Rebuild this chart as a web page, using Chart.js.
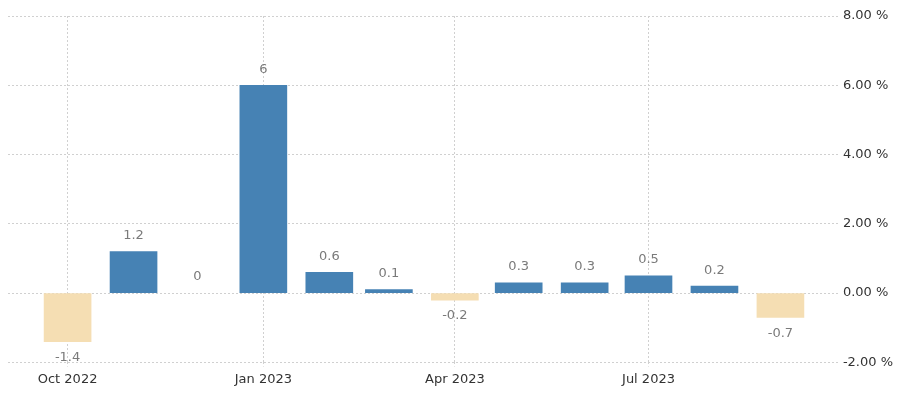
<!DOCTYPE html>
<html>
<head>
<meta charset="utf-8">
<script src="https://cdn.jsdelivr.net/npm/chart.js@4"></script>
<style>
  html, body { margin: 0; padding: 0; background: #fff; }
  #wrap { width: 900px; height: 398px; }
</style>
</head>
<body>
<div id="wrap"><canvas id="myChart"></canvas></div>
<script>
// meses (primer dia de cada mes) y valores en %
const months = ['2022-10', '2022-11', '2022-12', '2023-01', '2023-02', '2023-03',
                '2023-04', '2023-05', '2023-06', '2023-07', '2023-08', '2023-09'];
const values = [-1.4, 1.2, 0, 6, 0.6, 0.1, -0.2, 0.3, 0.3, 0.5, 0.2, -0.7];
const tickMonths = ['2022-10', '2023-01', '2023-04', '2023-07'];
const tickLabels = ['Oct 2022', 'Jan 2023', 'Apr 2023', 'Jul 2023'];
const yTicks = [-2, 0, 2, 4, 6, 8];

// dias desde el primer mes -> eje lineal que imita un eje de tiempo
const dayOf = (m) => {
    const [y, mo] = m.split('-').map(Number);
    return (Date.UTC(y, mo - 1, 1) - Date.UTC(2022, 9, 1)) / 86400000;
};

const points = months.map((m, i) => ({ x: dayOf(m), y: values[i] }));
const tickDays = tickMonths.map(dayOf);

// etiquetas de valor sobre / bajo cada barra
const valueLabels = {
    id: 'valueLabels',
    afterDatasetsDraw(chart) {
        const ctx = chart.ctx;
        const meta = chart.getDatasetMeta(0);
        ctx.save();
        ctx.font = '13px "DejaVu Sans", sans-serif';
        ctx.fillStyle = '#7a7a7a';
        ctx.textAlign = 'center';
        ctx.textBaseline = 'middle';
        meta.data.forEach((bar, i) => {
            const v = values[i];
            const y = v < 0 ? bar.y + 16 : bar.y - 16;
            ctx.fillText(String(v), bar.x, y);
        });
        ctx.restore();
    }
};

new Chart(document.getElementById('myChart'), {
    type: 'bar',
    data: {
        datasets: [{
            data: points,
            // el 0 no se dibuja como barra
            backgroundColor: values.map(v => v < 0 ? '#f5deb3' : (v === 0 ? 'rgba(0,0,0,0)' : '#4682b4')),
            barThickness: 47,
            borderWidth: 0
        }]
    },
    options: {
        responsive: true,
        maintainAspectRatio: false,
        animation: false,
        layout: { padding: { left: 8, top: 16, right: 2, bottom: 6 } },
        plugins: { legend: { display: false }, tooltip: { enabled: false } },
        scales: {
            x: {
                type: 'linear',
                offset: false,
                min: -28,
                max: 362,
                afterBuildTicks: (axis) => { axis.ticks = tickDays.map(v => ({ value: v })); },
                ticks: {
                    autoSkip: false,
                    maxRotation: 0,
                    color: '#333',
                    font: { size: 13, family: '"DejaVu Sans", sans-serif' },
                    padding: 5,
                    callback: (v) => tickLabels[tickDays.indexOf(v)]
                },
                grid: {
                    offset: false,
                    color: '#d0d0d0',
                    drawTicks: true,
                    tickLength: 4,
                    tickBorderDash: [2, 2]
                },
                border: { display: false, dash: [2, 2] }
            },
            y: {
                position: 'right',
                min: -2,
                max: 8,
                afterBuildTicks: (axis) => { axis.ticks = yTicks.map(v => ({ value: v })); },
                ticks: {
                    color: '#333',
                    font: { size: 13, family: '"DejaVu Sans", sans-serif' },
                    padding: 5,
                    callback: (v) => v.toFixed(2) + ' %'
                },
                grid: { color: '#d0d0d0', drawTicks: false },
                border: { display: false, dash: [2, 2] }
            }
        }
    },
    plugins: [valueLabels]
});
</script>
</body>
</html>
